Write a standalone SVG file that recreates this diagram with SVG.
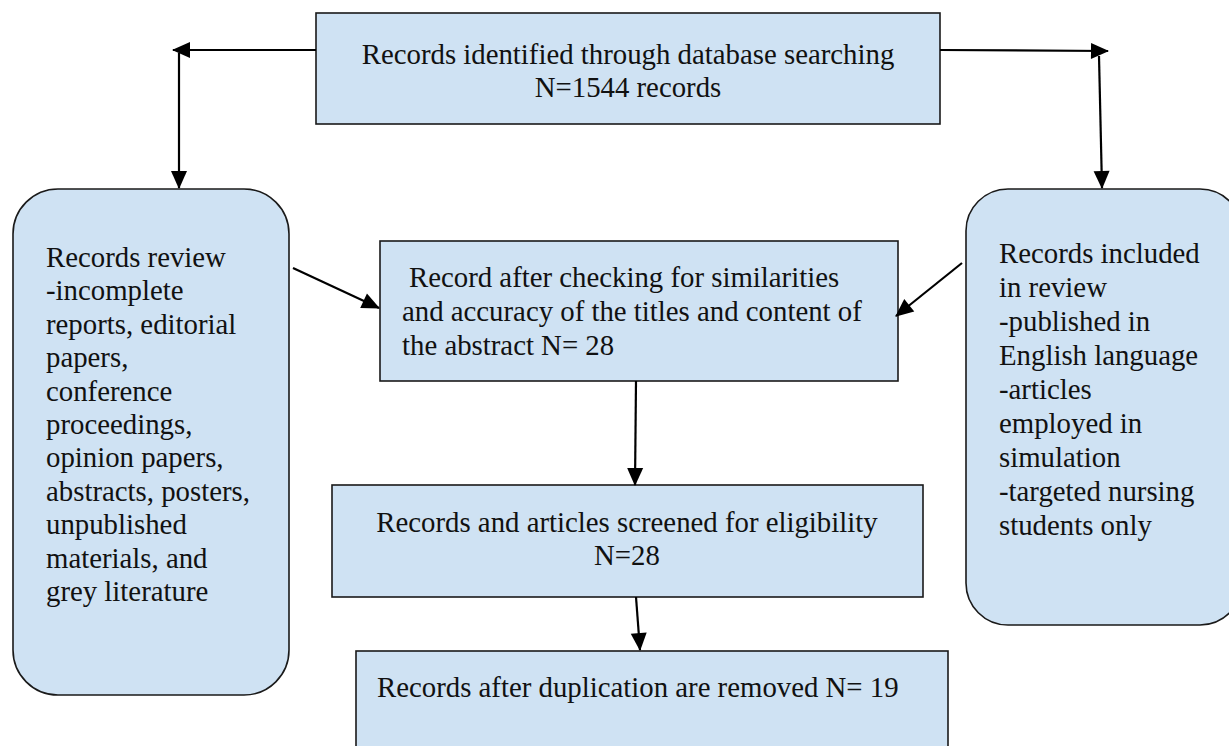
<svg xmlns="http://www.w3.org/2000/svg" width="1229" height="746" viewBox="0 0 1229 746">
<style>
.box{fill:#cfe2f3;stroke:#1a1a1a;stroke-width:1.6}
text{font-family:'Liberation Serif','Times New Roman',Times,serif;font-size:28.8px;fill:#111}
.c{text-anchor:middle}
.conn line{stroke:#000;stroke-width:2.2;marker-end:url(#ah)}
</style>
<defs>
<marker id="ah" markerUnits="userSpaceOnUse" markerWidth="18" markerHeight="16" refX="17" refY="8" orient="auto" overflow="visible">
<path d="M0,0 L18,8 L0,16 z" fill="#000"/>
</marker>
</defs>
<rect width="1229" height="746" fill="#fff"/>
<g id="n-identified" font-family="Liberation Serif, serif">
<rect class="box" x="316" y="13" width="624" height="111"/>
<text class="c" x="628" y="64">Records identified through database searching</text>
<text class="c" x="628" y="97">N=1544 records</text>
</g>
<g id="n-review">
<rect class="box" x="13" y="189" width="276" height="506" rx="45" ry="45"/>
<text x="46" y="267">Records review</text>
<text x="46" y="300.4">-incomplete</text>
<text x="46" y="333.8">reports, editorial</text>
<text x="46" y="367.2">papers,</text>
<text x="46" y="400.6">conference</text>
<text x="46" y="434">proceedings,</text>
<text x="46" y="467.4">opinion papers,</text>
<text x="46" y="500.8">abstracts, posters,</text>
<text x="46" y="534.2">unpublished</text>
<text x="46" y="567.6">materials, and</text>
<text x="46" y="601">grey literature</text>
</g>
<g id="n-included">
<rect class="box" x="966" y="189" width="276" height="436" rx="42" ry="42"/>
<text x="999" y="263">Records included</text>
<text x="999" y="297">in review</text>
<text x="999" y="331">-published in</text>
<text x="999" y="365">English language</text>
<text x="999" y="399">-articles</text>
<text x="999" y="433">employed in</text>
<text x="999" y="467">simulation</text>
<text x="999" y="501">-targeted nursing</text>
<text x="999" y="535">students only</text>
</g>
<g id="n-checked">
<rect class="box" x="380" y="241" width="518" height="140"/>
<text x="409" y="287">Record after checking for similarities</text>
<text x="402" y="321">and accuracy of the titles and content of</text>
<text x="402" y="355">the abstract N= 28</text>
</g>
<g id="n-screened">
<rect class="box" x="332" y="485" width="591" height="112"/>
<text class="c" x="627" y="532">Records and articles screened for eligibility</text>
<text class="c" x="627" y="565">N=28</text>
</g>
<g id="n-final">
<rect class="box" x="356" y="651" width="592" height="110"/>
<text x="377" y="697">Records after duplication are removed N= 19</text>
</g>
<g id="connectors" class="conn">
<line x1="316" y1="50" x2="173" y2="50"/>
<line x1="179" y1="53" x2="179" y2="188"/>
<line x1="940" y1="50" x2="1108" y2="51"/>
<line x1="1099" y1="56" x2="1102" y2="188"/>
<line x1="293" y1="268" x2="379" y2="308"/>
<line x1="962" y1="263" x2="896" y2="316"/>
<line x1="636" y1="381" x2="635" y2="485"/>
<line x1="636" y1="597" x2="640" y2="650"/>
</g>
</svg>
